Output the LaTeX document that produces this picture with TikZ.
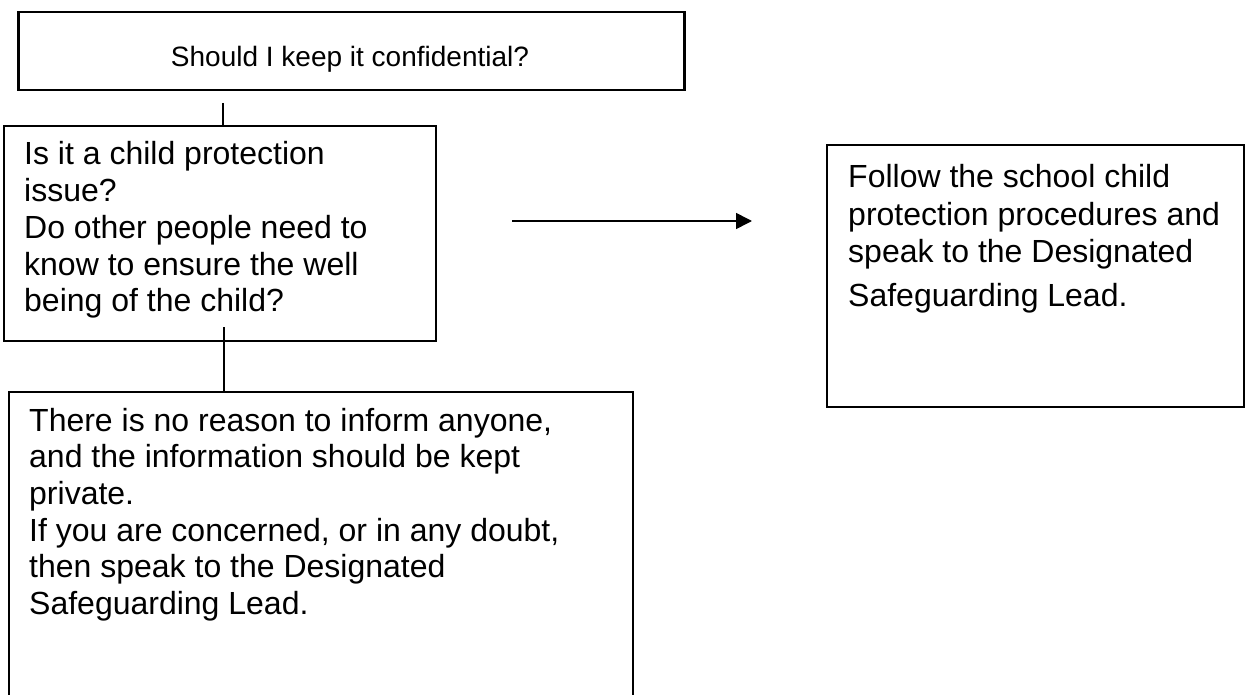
\documentclass[tikz,border=0pt]{standalone}
\usepackage{fontspec}
\setmainfont{Liberation Sans}
\usetikzlibrary{arrows.meta}
\begin{document}
\begin{tikzpicture}[x=1pt,y=-1pt,
  boxthick/.style={draw=black, line width=2.5pt, rectangle, inner sep=0pt, anchor=north west},
  boxthin/.style={draw=black, line width=1.6pt, rectangle, inner sep=0pt, anchor=north west},
  body/.style={inner sep=0pt, anchor=base west, font=\fontsize{32pt}{36.7pt}\selectfont},
  conn/.style={draw=black, line width=1.6pt},
  arrowtip/.style={-{Triangle[length=16pt,width=16pt]}}
]
\useasboundingbox (0,0) rectangle (1245,695);
\clip (0,0) rectangle (1245,695);

% top box
\node[boxthick, minimum width=666pt, minimum height=78pt] (q0) at (17,11) {};
\node[inner sep=0pt, anchor=base, font=\fontsize{28pt}{32pt}\selectfont] (t0) at (350,67) {Should I keep it confidential?};

% question box
\node[boxthin, minimum width=432pt, minimum height=215pt] (q1) at (3,125) {};
\node[body] (t1) at (24,165) {\parbox[t]{405pt}{\raggedright Is it a child protection\\issue?\\Do other people need to\\know to ensure the well\\being of the child?}};

% bottom box (runs off the page)
\node[boxthin, minimum width=624pt, minimum height=330pt] (q2) at (8,391) {};
\node[body] (t2) at (29,431) {\parbox[t]{590pt}{\raggedright There is no reason to inform anyone,\\and the information should be kept\\private.\\If you are concerned, or in any doubt,\\then speak to the Designated\\Safeguarding Lead.}};

% right box
\node[boxthin, minimum width=417pt, minimum height=262pt] (q3) at (826,144) {};
\node[inner sep=0pt, anchor=base west, font=\fontsize{32pt}{37.5pt}\selectfont] (t3) at (848,188) {\parbox[t]{390pt}{\raggedright Follow the school child\\protection procedures and\\speak to the Designated\\[6pt]Safeguarding Lead.}};

% connectors
\coordinate (c0) at (223,103);
\draw[conn] (c0) -- (c0 |- q1.north);
\coordinate (c1) at (224,327);
\draw[conn] (c1) -- (c1 |- q2.north);
\coordinate (a0) at (512,221);
\coordinate (a1) at (752,221);
\draw[conn, arrowtip] (a0) -- (a1);
\end{tikzpicture}
\end{document}
